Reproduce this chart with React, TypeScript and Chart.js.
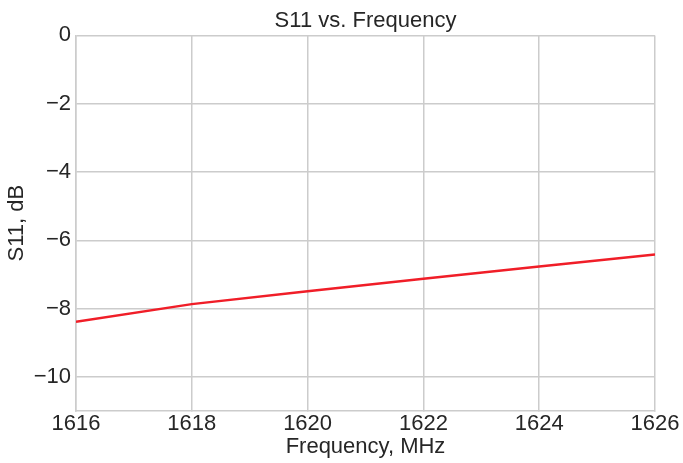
import React, { useEffect, useRef } from "react";
import { Chart, registerables } from "chart.js";

Chart.register(...registerables);

const frequencies = [1616, 1618, 1620, 1622, 1624, 1626];
const s11 = [-8.39, -7.87, -7.49, -7.13, -6.77, -6.42];

const xTicks = [1616, 1618, 1620, 1622, 1624, 1626];
const yTicks = [0, -2, -4, -6, -8, -10];

const TEXT = "#262626";
const GRID = "#cccccc";
const FONT = "'Liberation Sans', Arial, Helvetica, sans-serif";

export default function App() {
  const ref = useRef<HTMLCanvasElement | null>(null);
  useEffect(() => {
    if (!ref.current) return;
    const chart = new Chart(ref.current, {
      type: "line",
      data: {
        datasets: [
          {
            data: frequencies.map((f, i) => ({ x: f, y: s11[i] })),
            borderColor: "#f01e28",
            borderWidth: 2.5,
            pointRadius: 0,
            tension: 0,
            fill: false,
          },
        ],
      },
      options: {
        animation: false,
        responsive: true,
        maintainAspectRatio: false,
        layout: { padding: { left: 0, right: 28, top: 0, bottom: 0 } },
        plugins: {
          legend: { display: false },
          tooltip: { enabled: false },
          title: {
            display: true,
            text: "S11 vs. Frequency",
            color: TEXT,
            fullSize: false,
            font: { family: FONT, size: 22, weight: "normal" },
            padding: { top: 8, bottom: 1 },
          },
        },
        scales: {
          x: {
            type: "linear",
            min: 1616,
            max: 1626,
            afterBuildTicks: (scale: any) => {
              scale.ticks = xTicks.map((v) => ({ value: v }));
            },
            afterFit: (scale: any) => {
              scale.height = 52;
            },
            ticks: {
              color: TEXT,
              font: { family: FONT, size: 22 },
              padding: 0,
              maxRotation: 0,
              autoSkip: false,
              callback: (v: any) => String(v),
            },
            grid: { color: GRID, lineWidth: 1.5, tickLength: 0 },
            border: { color: GRID, width: 1.5 },
            title: {
              display: true,
              text: "Frequency, MHz",
              color: TEXT,
              font: { family: FONT, size: 22 },
              padding: { top: 0, bottom: 3 },
            },
          },
          y: {
            type: "linear",
            min: -11,
            max: 0,
            afterBuildTicks: (scale: any) => {
              scale.ticks = yTicks.map((v) => ({ value: v }));
            },
            afterFit: (scale: any) => {
              scale.width = 76;
            },
            ticks: {
              color: TEXT,
              font: { family: FONT, size: 22 },
              padding: 5,
              autoSkip: false,
              callback: (v: any) => (Number(v) < 0 ? "\u2212" + Math.abs(Number(v)) : String(v)),
            },
            grid: { color: GRID, lineWidth: 1.5, tickLength: 0 },
            border: { color: GRID, width: 1.5 },
            title: {
              display: true,
              text: "S11, dB",
              color: TEXT,
              font: { family: FONT, size: 22 },
              padding: { top: 4, bottom: 0 },
            },
          },
        },
      },
    });
    return () => chart.destroy();
  }, []);
  return (
    <div style={{ position: "absolute", left: 0, top: 0, width: 683, height: 463, background: "#fff" }}>
      <canvas ref={ref} />
    </div>
  );
}
